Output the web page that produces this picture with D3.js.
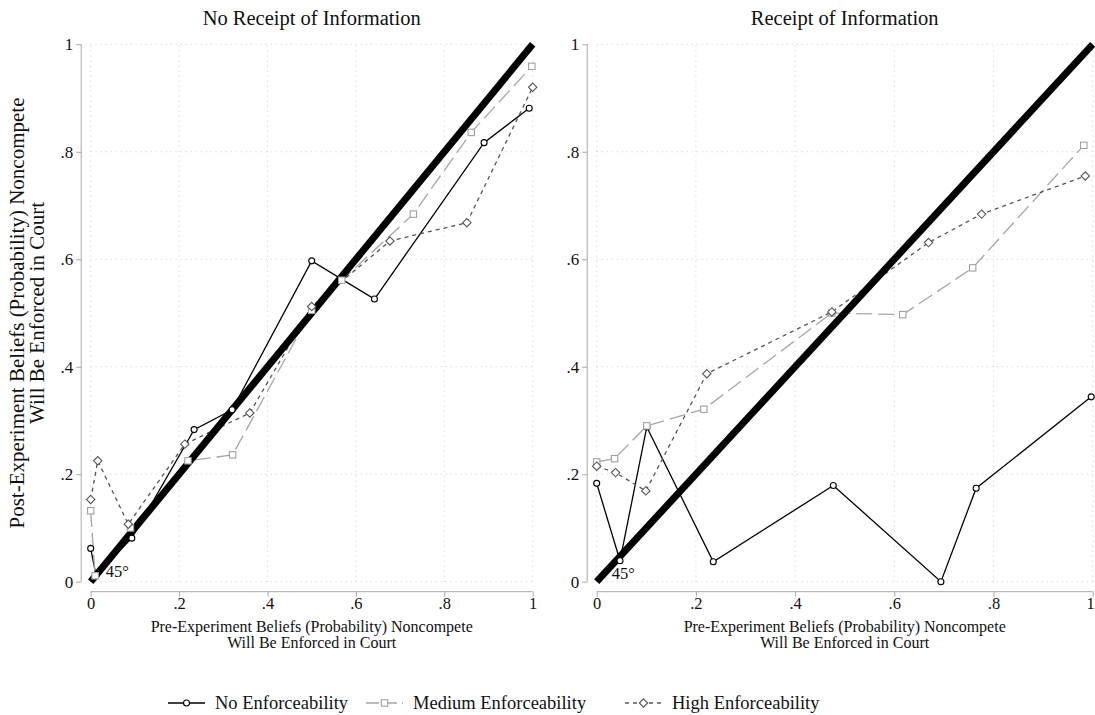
<!DOCTYPE html>
<html>
<head>
<meta charset="utf-8">
<script src="https://cdn.jsdelivr.net/npm/d3@7"></script>
<style>
  html, body { margin: 0; padding: 0; background: #fff; }
  svg { display: block; font-family: "Liberation Serif", "Times New Roman", serif; }
</style>
</head>
<body>
<svg id="chart" width="1095" height="715"></svg>
<script>
// Pre-experiment belief (x) and post-experiment belief (y), by enforceability group
const panelTitles = ["No Receipt of Information", "Receipt of Information"];
const seriesNames = ["No Enforceability", "Medium Enforceability", "High Enforceability"];

// No Receipt of Information
const noInfoNoneX   = [0, 0.012, 0.093, 0.234, 0.32, 0.5, 0.642, 0.89, 0.992];
const noInfoNoneY   = [0.062, 0.012, 0.081, 0.283, 0.32, 0.597, 0.526, 0.817, 0.881];
const noInfoMedX    = [0, 0.01, 0.09, 0.22, 0.321, 0.5, 0.568, 0.73, 0.861, 0.998];
const noInfoMedY    = [0.132, 0.011, 0.1, 0.225, 0.236, 0.505, 0.561, 0.684, 0.836, 0.959];
const noInfoHighX   = [0, 0.016, 0.085, 0.213, 0.36, 0.5, 0.677, 0.851, 1.0];
const noInfoHighY   = [0.153, 0.225, 0.107, 0.256, 0.314, 0.512, 0.634, 0.668, 0.92];

// Receipt of Information
const infoNoneX     = [0, 0.047, 0.101, 0.235, 0.477, 0.694, 0.765, 0.997];
const infoNoneY     = [0.183, 0.039, 0.288, 0.037, 0.179, 0.0, 0.174, 0.344];
const infoMedX      = [0, 0.036, 0.101, 0.216, 0.474, 0.617, 0.758, 0.982];
const infoMedY      = [0.223, 0.229, 0.29, 0.321, 0.5, 0.497, 0.584, 0.812];
const infoHighX     = [0, 0.038, 0.099, 0.222, 0.474, 0.669, 0.776, 0.985];
const infoHighY     = [0.215, 0.203, 0.169, 0.387, 0.502, 0.631, 0.684, 0.755];

const xTicks = [0, 0.2, 0.4, 0.6, 0.8, 1];
const yTicks = [0, 0.2, 0.4, 0.6, 0.8, 1];
const tickFmt = v => v === 0 ? "0" : v === 1 ? "1" : String(v).replace(/^0/, "");

const zip = (xs, ys) => xs.map((x, i) => ({ x, y: ys[i] }));

const panels = [
  { title: panelTitles[0], x0: 90.7, x1: 532.7,
    series: [zip(noInfoNoneX, noInfoNoneY), zip(noInfoMedX, noInfoMedY), zip(noInfoHighX, noInfoHighY)] },
  { title: panelTitles[1], x0: 596.7, x1: 1092.7,
    series: [zip(infoNoneX, infoNoneY), zip(infoMedX, infoMedY), zip(infoHighX, infoHighY)] }
];

const styles = [
  { stroke: "#000", width: 1.3, dash: null, marker: "circle", mstroke: "#000" },
  { stroke: "#a6a6a6", width: 1.3, dash: "16,6", marker: "square", mstroke: "#a0a0a0" },
  { stroke: "#555", width: 1.3, dash: "4,4", marker: "diamond", mstroke: "#555" }
];

const yTop = 44.3, yBottom = 581.7;
const svg = d3.select("#chart");
const axisColor = "#a8a8a8";
const gridColor = "#cfcfcf";

function drawMarker(g, type, cx, cy, stroke) {
  if (type === "circle") {
    g.append("circle").attr("cx", cx).attr("cy", cy).attr("r", 3)
      .attr("fill", "#fff").attr("stroke", stroke).attr("stroke-width", 1.1);
  } else if (type === "square") {
    g.append("rect").attr("x", cx - 3.2).attr("y", cy - 3.2).attr("width", 6.4).attr("height", 6.4)
      .attr("fill", "#fff").attr("stroke", stroke).attr("stroke-width", 1.1);
  } else {
    const s = 4.2;
    g.append("path").attr("d", `M${cx},${cy - s}L${cx + s},${cy}L${cx},${cy + s}L${cx - s},${cy}Z`)
      .attr("fill", "#fff").attr("stroke", stroke).attr("stroke-width", 1.1);
  }
}

panels.forEach((p, pi) => {
  const x = d3.scaleLinear().domain([0, 1]).range([p.x0, p.x1]);
  const y = d3.scaleLinear().domain([0, 1]).range([yBottom, yTop]);
  const g = svg.append("g");

  // dotted grid
  g.append("g").selectAll("line").data(yTicks).join("line")
    .attr("x1", x(0)).attr("x2", x(1)).attr("y1", d => y(d)).attr("y2", d => y(d))
    .attr("stroke", gridColor).attr("stroke-width", 1).attr("stroke-dasharray", "1,4");
  g.append("g").selectAll("line").data(xTicks).join("line")
    .attr("y1", y(0)).attr("y2", y(1)).attr("x1", d => x(d)).attr("x2", d => x(d))
    .attr("stroke", gridColor).attr("stroke-width", 1).attr("stroke-dasharray", "1,4");

  // y axis
  const yAxisX = x(0) - 9.5;
  const ya = g.append("g").attr("transform", `translate(${yAxisX},0)`)
    .call(d3.axisLeft(y).tickValues(yTicks).tickFormat(tickFmt).tickSize(5).tickPadding(3));
  ya.select(".domain").attr("stroke", axisColor).attr("d", `M0,${y(0)}V${y(1)}`);
  ya.selectAll(".tick line").attr("stroke", axisColor);
  ya.selectAll(".tick text").attr("font-family", "Liberation Serif").attr("font-size", 17).attr("fill", "#111");

  // x axis
  const xAxisY = y(0) + 10;
  const xa = g.append("g").attr("transform", `translate(0,${xAxisY})`)
    .call(d3.axisBottom(x).tickValues(xTicks).tickFormat(tickFmt).tickSize(5).tickPadding(1));
  xa.select(".domain").attr("stroke", axisColor).attr("d", `M${x(0)},0H${x(1)}`);
  xa.selectAll(".tick line").attr("stroke", axisColor);
  xa.selectAll(".tick text").attr("font-family", "Liberation Serif").attr("font-size", 16.5).attr("fill", "#111");
  if (pi === 1) {
    // keep the last label inside the right edge
    xa.selectAll(".tick text").filter(d => d === 1).attr("text-anchor", "end").attr("dx", 1.5);
  }

  // x title
  const xc = (x(0) + x(1)) / 2;
  g.append("text").attr("x", xc).attr("y", 631.5).attr("text-anchor", "middle")
    .attr("font-size", 16).attr("fill", "#111").text("Pre-Experiment Beliefs (Probability) Noncompete");
  g.append("text").attr("x", xc).attr("y", 648).attr("text-anchor", "middle")
    .attr("font-size", 16).attr("fill", "#111").text("Will Be Enforced in Court");

  // panel title
  g.append("text").attr("x", xc).attr("y", 25).attr("text-anchor", "middle")
    .attr("font-size", 20.5).attr("fill", "#111").text(p.title);

  // series lines
  const line = d3.line().x(d => x(d.x)).y(d => y(d.y));
  p.series.forEach((data, si) => {
    const st = styles[si];
    g.append("path").datum(data).attr("d", line).attr("fill", "none")
      .attr("stroke", st.stroke).attr("stroke-width", st.width)
      .attr("stroke-dasharray", st.dash);
  });

  // 45-degree reference line
  g.append("line").attr("x1", x(0)).attr("y1", y(0)).attr("x2", x(1)).attr("y2", y(1))
    .attr("stroke", "#000").attr("stroke-width", 7);

  // markers
  p.series.forEach((data, si) => {
    const st = styles[si];
    const mg = g.append("g");
    data.forEach(d => drawMarker(mg, st.marker, x(d.x), y(d.y), st.mstroke));
  });

  g.append("text").attr("x", x(0) + 15).attr("y", y(0) - 5 + pi * 2)
    .attr("font-size", 16.5).attr("fill", "#111").text("45°");
});

// y title
svg.append("text").attr("transform", "translate(24,313) rotate(-90)").attr("text-anchor", "middle")
  .attr("font-size", 21).attr("fill", "#111").text("Post-Experiment Beliefs (Probability) Noncompete");
svg.append("text").attr("transform", "translate(44,313) rotate(-90)").attr("text-anchor", "middle")
  .attr("font-size", 21).attr("fill", "#111").text("Will Be Enforced in Court");

// legend
const legendTextX = [215, 413, 672];
const keyLen = 37, keyGap = 10;
const legendY = 703;
seriesNames.forEach((name, i) => {
  const st = styles[i];
  const lg = svg.append("g");
  const kx = legendTextX[i] - keyGap - keyLen;
  lg.append("line").attr("x1", kx).attr("x2", kx + keyLen)
    .attr("y1", legendY).attr("y2", legendY)
    .attr("stroke", st.stroke).attr("stroke-width", st.width + 0.4)
    .attr("stroke-dasharray", st.dash ? (i === 1 ? "13,5" : "4,4") : null);
  drawMarker(lg, st.marker, kx + keyLen / 2, legendY, st.mstroke);
  lg.append("text").attr("x", legendTextX[i]).attr("y", legendY + 6)
    .attr("font-size", 18.5).attr("fill", "#111").text(name);
});
</script>
</body>
</html>
